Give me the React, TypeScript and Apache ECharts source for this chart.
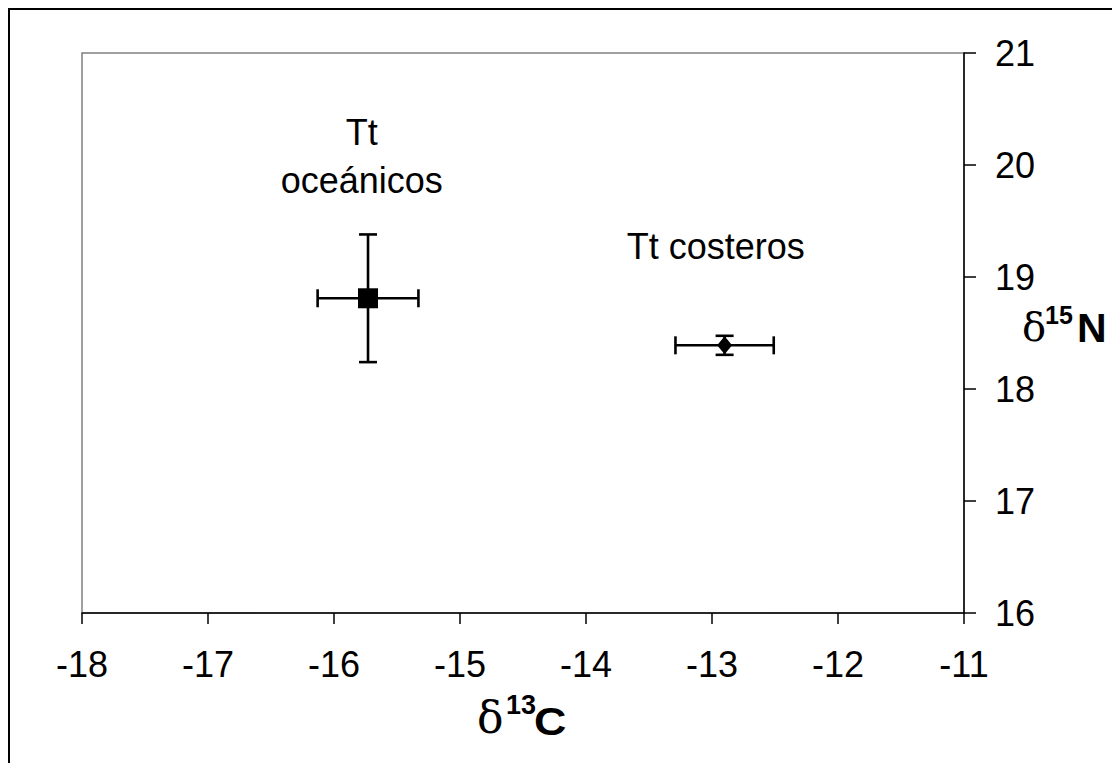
import React, { useEffect, useRef } from "react";
import * as echarts from "echarts";

// Data
const groups = ["Tt oceánicos", "Tt costeros"];
const d13C = [-15.73, -12.9];
const d15N = [18.81, 18.39];
const d13CErr = [0.4, 0.39];
const d15NErr = [0.57, 0.085];
const markerSymbols = ["rect", "diamond"];
const markerSizes: number[][] = [
  [20, 20],
  [15, 18],
];
const labelTexts = ["Tt\noceánicos", "Tt costeros"];
const labelX = [-15.78, -12.97];
const labelY = [20.08, 19.27];
const xMin = -18;
const xMax = -11;
const yMin = 16;
const yMax = 21;

const SANS = "'Liberation Sans', Arial, Helvetica, sans-serif";
const SERIF = "'DejaVu Serif', 'Liberation Serif', serif";

export default function App() {
  const ref = useRef<HTMLDivElement>(null);

  useEffect(() => {
    document.documentElement.style.overflow = "hidden";
    document.body.style.overflow = "hidden";
    if (!ref.current) return;
    const chart = echarts.init(ref.current, undefined, { renderer: "svg" });

    const errData = groups.map((g, i) => [d13C[i], d15N[i], d13CErr[i], d15NErr[i]]);
    const cap = 9;

    const option: any = {
      animation: false,
      backgroundColor: "#ffffff",
      textStyle: { fontFamily: SANS, color: "#000" },
      grid: {
        left: 72,
        top: 43,
        right: 156,
        bottom: 150,
        show: true,
        borderColor: "#808080",
        borderWidth: 1.5,
        backgroundColor: "transparent",
      },
      xAxis: {
        type: "value",
        min: xMin,
        max: xMax,
        interval: 1,
        axisLine: { show: true, onZero: false, lineStyle: { color: "#000", width: 1.5 } },
        axisTick: { show: true, inside: false, length: 11, lineStyle: { color: "#000", width: 1.5 } },
        axisLabel: { fontSize: 36, color: "#000", margin: 33, fontFamily: SANS },
        splitLine: { show: false },
      },
      yAxis: {
        type: "value",
        position: "right",
        min: yMin,
        max: yMax,
        interval: 1,
        axisLine: { show: true, onZero: false, lineStyle: { color: "#000", width: 1.5 } },
        axisTick: { show: true, inside: false, length: 12, lineStyle: { color: "#000", width: 1.5 } },
        axisLabel: { fontSize: 36, color: "#000", margin: 31, fontFamily: SANS },
        splitLine: { show: false },
      },
      series: [
        {
          type: "custom",
          name: "error bars",
          data: errData,
          z: 2,
          renderItem: (params: any, api: any) => {
            const x = api.value(0);
            const y = api.value(1);
            const ex = api.value(2);
            const ey = api.value(3);
            const pL = api.coord([x - ex, y]);
            const pR = api.coord([x + ex, y]);
            const pT = api.coord([x, y + ey]);
            const pB = api.coord([x, y - ey]);
            const style = { stroke: "#000", lineWidth: 2.6 };
            const ln = (x1: number, y1: number, x2: number, y2: number) => ({
              type: "line",
              shape: { x1, y1, x2, y2 },
              style,
            });
            return {
              type: "group",
              children: [
                ln(pL[0], pL[1], pR[0], pR[1]),
                ln(pL[0], pL[1] - cap, pL[0], pL[1] + cap),
                ln(pR[0], pR[1] - cap, pR[0], pR[1] + cap),
                ln(pT[0], pT[1], pB[0], pB[1]),
                ln(pT[0] - cap, pT[1], pT[0] + cap, pT[1]),
                ln(pB[0] - cap, pB[1], pB[0] + cap, pB[1]),
              ],
            };
          },
        },
        ...groups.map((g, i) => ({
          type: "scatter",
          name: g,
          data: [[d13C[i], d15N[i]]],
          symbol: markerSymbols[i],
          symbolSize: markerSizes[i],
          itemStyle: { color: "#000", opacity: 1 },
          z: 3,
        })),
        {
          type: "custom",
          name: "labels",
          data: groups.map((g, i) => [labelX[i], labelY[i], i]),
          z: 4,
          renderItem: (params: any, api: any) => {
            const p = api.coord([api.value(0), api.value(1)]);
            const idx = api.value(2);
            return {
              type: "text",
              x: p[0],
              y: p[1],
              style: {
                text: labelTexts[idx],
                font: `36px ${SANS}`,
                lineHeight: 48,
                fill: "#000",
                align: "center",
                verticalAlign: "middle",
              },
            };
          },
        },
      ],
      graphic: [
        // x-axis title: δ13C
        {
          type: "text",
          left: 467,
          top: 685,
          style: { text: "δ", font: `44px ${SERIF}`, fill: "#000" },
        },
        {
          type: "text",
          left: 496,
          top: 681,
          style: { text: "13", font: `bold 27px ${SANS}`, fill: "#000" },
        },
        {
          type: "text",
          left: 524,
          top: 692,
          scaleX: 1.15,
          style: { text: "C", font: `bold 39px ${SANS}`, fill: "#000" },
        },
        // y-axis title: δ15N
        {
          type: "text",
          left: 1012,
          top: 297,
          style: { text: "δ", font: `40px ${SERIF}`, fill: "#000" },
        },
        {
          type: "text",
          left: 1035,
          top: 292,
          style: { text: "15", font: `bold 25px ${SANS}`, fill: "#000" },
        },
        {
          type: "text",
          left: 1067,
          top: 297,
          style: { text: "N", font: `bold 41px ${SANS}`, fill: "#000" },
        },
      ],
    };

    chart.setOption(option);
    return () => chart.dispose();
  }, []);

  return (
    <div
      style={{
        width: 1112,
        height: 755,
        boxSizing: "border-box",
        borderLeft: "2px solid #000",
        borderTop: "2px solid #000",
        overflow: "hidden",
      }}
    >
      <div ref={ref} style={{ width: 1110, height: 753 }} />
    </div>
  );
}
